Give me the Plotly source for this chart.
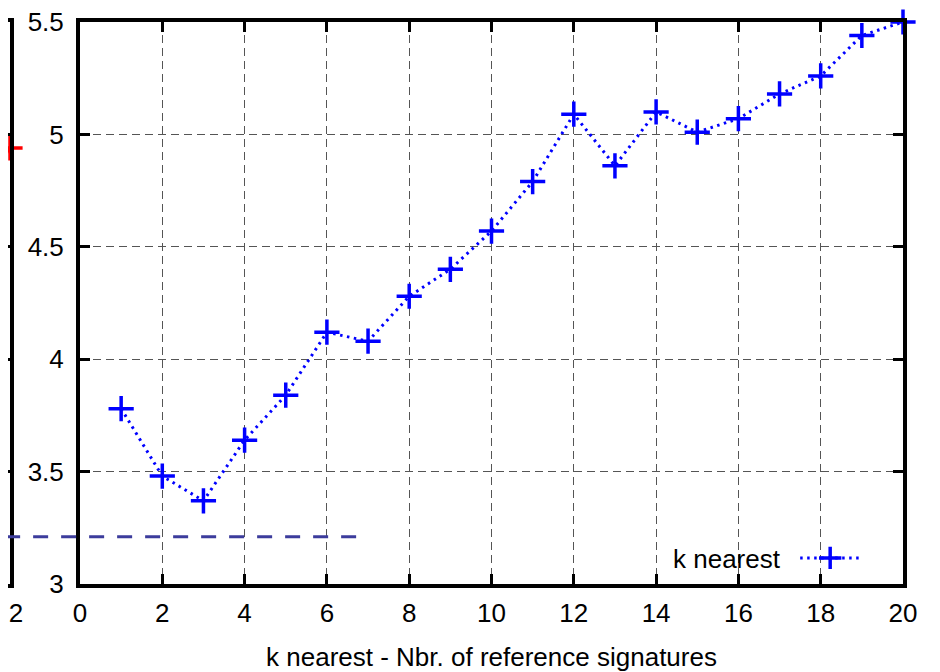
import plotly.graph_objects as go

# ---- data ----
k_values = list(range(1, 21))
k_nearest = [3.78, 3.48, 3.37, 3.64, 3.84, 4.12, 4.08, 4.28, 4.40, 4.57,
             4.79, 5.09, 4.86, 5.10, 5.01, 5.07, 5.18, 5.26, 5.44, 5.50]

# partial neighbouring plot on the left (only its right edge is visible)
left_x = [1, 2]
left_y = [4.67, 4.94]

# horizontal dashed reference level spanning both panels
ref_x = [-2.5, 6.75]
ref_y = [3.21, 3.21]

x_ticks = list(range(0, 21, 2))
y_ticks = [3, 3.5, 4, 4.5, 5, 5.5]

# ---- layout geometry (page pixels; the page body adds an 8px offset) ----
OFF = 8
W, H = 940 - OFF, 672 - OFF
L = 0
T = 22 - OFF
R = W - (903 - OFF)
B = H - (584 - OFF)
plot_w = W - L - R
plot_h = H - T - B
main_left_px = 80 - OFF
left_panel_px = 10 - OFF
xmin, xmax = 0, 20
px_per_unit = (plot_w - main_left_px) / (xmax - xmin)

FONT = "Liberation Sans, Arial, sans-serif"
FS = 26
blue = "#0000ff"

fig = go.Figure()

fig.add_trace(go.Scatter(
    x=k_values, y=k_nearest, mode="lines+markers", name=" ",
    line=dict(color=blue, width=3, dash="2.5px,4.5px"),
    marker=dict(symbol="cross-thin", size=18, line=dict(color=blue, width=3.5)),
    cliponaxis=False, xaxis="x", yaxis="y", showlegend=True,
))

fig.add_trace(go.Scatter(
    x=left_x, y=left_y, mode="lines+markers",
    line=dict(color="#ff0000", width=3),
    marker=dict(symbol="cross-thin", size=18, line=dict(color="#ff0000", width=3.5)),
    cliponaxis=False, xaxis="x2", yaxis="y2", showlegend=False,
))

fig.add_trace(go.Scatter(
    x=ref_x, y=ref_y, mode="lines",
    line=dict(color="#3c3c9c", width=3, dash="15px,13px"),
    xaxis="x3", yaxis="y3", showlegend=False,
))

tickfont = dict(family=FONT, size=FS, color="black")

fig.update_layout(
    width=W, height=H,
    margin=dict(l=L, r=R, t=T, b=B, autoexpand=False),
    paper_bgcolor="white",
    plot_bgcolor="rgba(0,0,0,0)",
    font=dict(family=FONT, size=FS, color="black"),
    xaxis=dict(
        domain=[main_left_px / plot_w, 1], range=[xmin, xmax],
        tickvals=x_ticks, ticks="inside", ticklen=10, tickwidth=3, tickcolor="black",
        showline=True, linewidth=4, linecolor="black", mirror="ticks",
        showgrid=True, gridcolor="#555555", gridwidth=1, griddash="8px,5px",
        zeroline=False, tickfont=tickfont, ticklabelstandoff=3,
        ticklabeloverflow="allow",
        title=dict(text="k nearest - Nbr. of reference signatures",
                   font=dict(family=FONT, size=FS, color="black"), standoff=23),
        anchor="y", automargin=False,
    ),
    yaxis=dict(
        domain=[0, 1], range=[3, 5.5],
        tickvals=y_ticks, ticktext=["3", "3.5", "4", "4.5", "5", "5.5"],
        ticks="inside", ticklen=10, tickwidth=3, tickcolor="black",
        showline=True, linewidth=4, linecolor="black", mirror="ticks",
        showgrid=True, gridcolor="#555555", gridwidth=1, griddash="8px,5px",
        zeroline=False, tickfont=tickfont, ticklabelstandoff=7,
        ticklabeloverflow="allow",
        anchor="x", automargin=False,
    ),
    xaxis2=dict(
        domain=[0, left_panel_px / plot_w],
        range=[2 - left_panel_px / px_per_unit, 2],
        tickvals=[2], ticks="", showline=True, linewidth=4, linecolor="black",
        mirror=True, showgrid=False, zeroline=False, tickfont=tickfont,
        ticklabelstandoff=3, ticklabelshift=6, ticklabeloverflow="allow",
        anchor="y2", automargin=False,
    ),
    yaxis2=dict(
        domain=[0, 1], range=[3, 5.5], side="right",
        tickvals=y_ticks[1:-1], ticks="inside", ticklen=9, tickwidth=3, tickcolor="black",
        showline=True, linewidth=4, linecolor="black", mirror=False,
        showgrid=False, zeroline=False, showticklabels=False, anchor="x2",
        automargin=False,
    ),
    xaxis3=dict(
        domain=[0, 1], range=[xmin - main_left_px / px_per_unit, xmax],
        visible=False, anchor="y3", automargin=False,
    ),
    yaxis3=dict(domain=[0, 1], range=[3, 5.5], visible=False, anchor="x3",
                automargin=False),
    legend=dict(
        x=(878 - OFF) / plot_w, y=1 - (558 - 22) / plot_h, xanchor="right", yanchor="middle",
        bgcolor="rgba(0,0,0,0)", borderwidth=0,
        title=dict(text="k nearest ", side="left", font=dict(family=FONT, size=FS)),
        font=dict(family=FONT, size=FS), itemwidth=60,
    ),
)

fig.write_html("out.html")
